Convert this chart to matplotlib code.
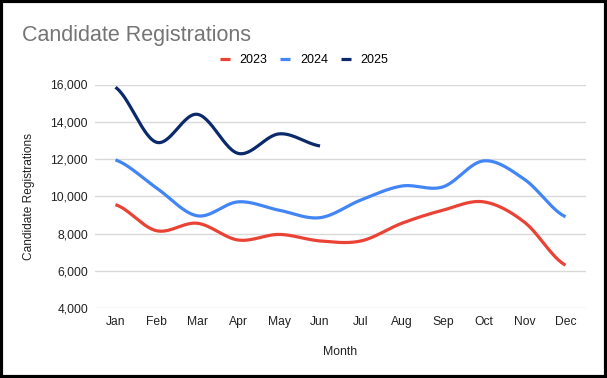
import numpy as np
import matplotlib.pyplot as plt
from matplotlib.patches import Rectangle

# data
months = ['Jan', 'Feb', 'Mar', 'Apr', 'May', 'Jun', 'Jul', 'Aug', 'Sep', 'Oct', 'Nov', 'Dec']
reg_2023 = [9550, 8150, 8550, 7650, 7950, 7600, 7600, 8550, 9250, 9700, 8600, 6300]
reg_2024 = [11950, 10450, 8950, 9700, 9250, 8850, 9800, 10550, 10500, 11900, 10900, 8900]
reg_2025 = [15850, 12900, 14400, 12300, 13350, 12700]

colors = {'2023': '#ea4335', '2024': '#4285f4', '2025': '#0b2a6b'}


def smooth(y, n=30):
    # catmull-rom style smoothing, like the spreadsheet's "smooth" line
    y = np.asarray(y, dtype=float)
    x = np.arange(len(y), dtype=float)
    xs, ys = [], []
    for i in range(len(y) - 1):
        p0 = y[i - 1] if i > 0 else y[i]
        p1, p2 = y[i], y[i + 1]
        p3 = y[i + 2] if i + 2 < len(y) else y[i + 1]
        t = np.linspace(0, 1, n, endpoint=False)
        m1 = (p2 - p0) / 2
        m2 = (p3 - p1) / 2
        h00 = 2 * t**3 - 3 * t**2 + 1
        h10 = t**3 - 2 * t**2 + t
        h01 = -2 * t**3 + 3 * t**2
        h11 = t**3 - t**2
        xs.append(x[i] + t)
        ys.append(h00 * p1 + h10 * m1 + h01 * p2 + h11 * m2)
    xs.append([x[-1]])
    ys.append([y[-1]])
    return np.concatenate(xs), np.concatenate(ys)


plt.rcParams['font.family'] = ['Liberation Sans', 'DejaVu Sans']

fig = plt.figure(figsize=(6.07, 3.78), dpi=100)
ax = fig.add_axes([95 / 607, 1 - 308 / 378, (586 - 95) / 607, (308 - 84.5) / 378])

for label, vals in [('2023', reg_2023), ('2024', reg_2024), ('2025', reg_2025)]:
    sx, sy = smooth(vals)
    ax.plot(sx, sy, color=colors[label], lw=2.3, label=label, solid_capstyle='butt')

ax.set_xlim(-0.5, 11.5)
ax.set_ylim(4000, 16000)
ax.set_yticks(np.arange(4000, 16001, 2000))
ax.set_yticklabels([f'{v:,}' for v in range(4000, 16001, 2000)])
ax.set_xticks(range(len(months)))
ax.set_xticklabels(months)
ax.tick_params(length=0, labelsize=8.7, colors='#222222', pad=5)
ax.tick_params(axis='x', pad=6)
ax.grid(axis='y', color='#d9d9d9', lw=1)
ax.set_axisbelow(True)
for s in ax.spines.values():
    s.set_visible(False)

ax.set_ylabel('Candidate Registrations', fontsize=8.6, color='#222222', labelpad=11)
ax.set_xlabel('Month', fontsize=8.8, color='#222222', labelpad=13)

fig.text(22 / 607, 1 - 35 / 378, 'Candidate Registrations', fontsize=15.5, color='#757575', va='center')
fig.legend(loc='center', bbox_to_anchor=(304 / 607, 1 - 60 / 378), ncol=3, frameon=False,
           fontsize=9, handlelength=0.8, handletextpad=0.8, columnspacing=1.0)

# black frame round the picture
fig.add_artist(Rectangle((0.002, 0.003), 0.996, 0.994, transform=fig.transFigure,
                         fill=False, ec='black', lw=3))

plt.savefig('out.png', dpi=100)
